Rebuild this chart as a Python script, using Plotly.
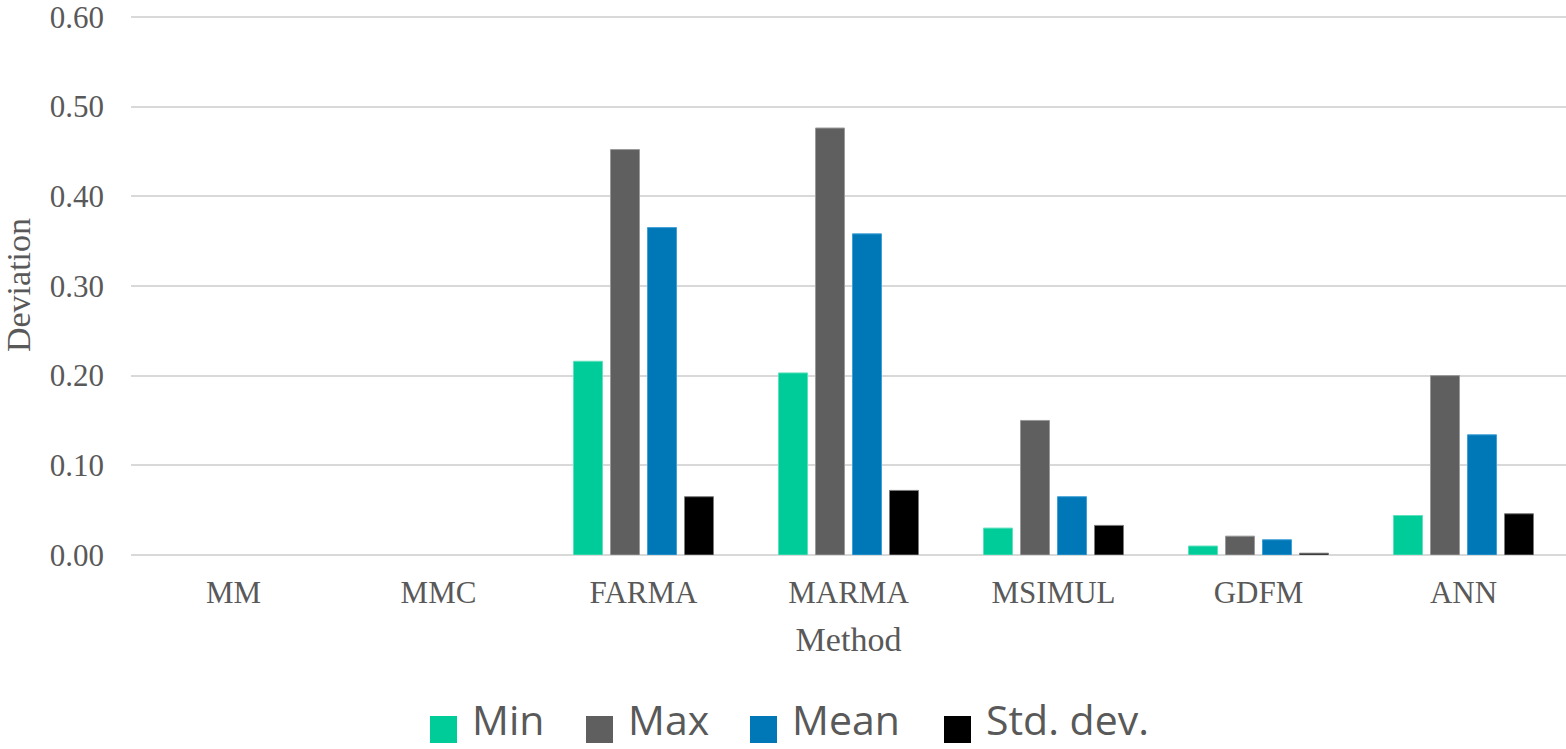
import plotly.graph_objects as go

# Deviation statistics per forecasting method
methods = ["MM", "MMC", "FARMA", "MARMA", "MSIMUL", "GDFM", "ANN"]
min_vals = [None, None, 0.216, 0.203, 0.030, 0.010, 0.044]
max_vals = [None, None, 0.452, 0.476, 0.150, 0.021, 0.200]
mean_vals = [None, None, 0.365, 0.358, 0.065, 0.017, 0.134]
std_vals = [None, None, 0.065, 0.072, 0.033, 0.002, 0.046]

series_names = ["Min", "Max", "Mean", "Std. dev."]
series_values = [min_vals, max_vals, mean_vals, std_vals]
series_colors = ["#00CC99", "#5F5F5F", "#0077B6", "#000000"]
edge_colors = ["#5FE0BC", "#9A9A9A", "#3FA0D8", "#7A7A7A"]

y_ticks = [0.0, 0.1, 0.2, 0.3, 0.4, 0.5, 0.6]
y_top = 0.602  # a hair above the last tick so its gridline and label are kept

W, H = 1566, 749
L, R, T, B = 131, 0, 15, 194
plot_w = W - L - R
plot_h = H - T - B

fig = go.Figure()
for name, vals, color, edge in zip(series_names, series_values, series_colors, edge_colors):
    fig.add_trace(go.Bar(
        x=methods, y=vals, name=name,
        marker=dict(color=color, line=dict(color=edge, width=1)),
        showlegend=False,
    ))

serif = "Liberation Serif, Times New Roman, serif"
grey = "#595959"
grid = "#D9D9D9"

fig.update_layout(
    width=W, height=H,
    margin=dict(l=L, r=R, t=T, b=B, pad=0),
    paper_bgcolor="white", plot_bgcolor="white",
    barmode="group", bargap=0.278, bargroupgap=0.216,
    font=dict(family=serif, color=grey, size=32),
    xaxis=dict(
        type="category", showgrid=False, showline=False, zeroline=False,
        ticks="", tickfont=dict(family=serif, size=31, color=grey),
        ticklabelstandoff=16,
        title=dict(text="Method", font=dict(family=serif, size=34, color=grey), standoff=18),
        automargin=False,
    ),
    yaxis=dict(
        range=[0, y_top], tickvals=y_ticks, tickformat=".2f",
        showgrid=True, gridcolor=grid, gridwidth=1.5,
        zeroline=True, zerolinecolor=grid, zerolinewidth=1.5,
        showline=False, ticks="",
        tickfont=dict(family=serif, size=31, color=grey),
        ticklabelstandoff=26, ticklabeloverflow="allow",
        title=dict(text="Deviation", font=dict(family=serif, size=34, color=grey), standoff=14),
        automargin=False,
    ),
)

# Legend row below the axis title: square swatch plus label per series
legend_left_px = [430, 586, 750, 944]
swatch = 27
legend_cy = 729.5


def to_paper_y(py):
    return (H - B - py) / plot_h


for name, color, x0 in zip(series_names, series_colors, legend_left_px):
    fig.add_shape(
        type="rect", xref="paper", yref="paper",
        x0=(x0 - L) / plot_w, x1=(x0 + swatch - L) / plot_w,
        y0=to_paper_y(legend_cy + swatch / 2),
        y1=to_paper_y(legend_cy - swatch / 2),
        fillcolor=color, line=dict(width=0),
    )
    fig.add_annotation(
        xref="paper", yref="paper",
        x=(x0 + swatch + 13 - L) / plot_w, y=to_paper_y(H),
        xanchor="left", yanchor="bottom", showarrow=False,
        text=name, font=dict(family="Open Sans, sans-serif", size=41, color=grey),
    )

fig.write_html("out.html")
